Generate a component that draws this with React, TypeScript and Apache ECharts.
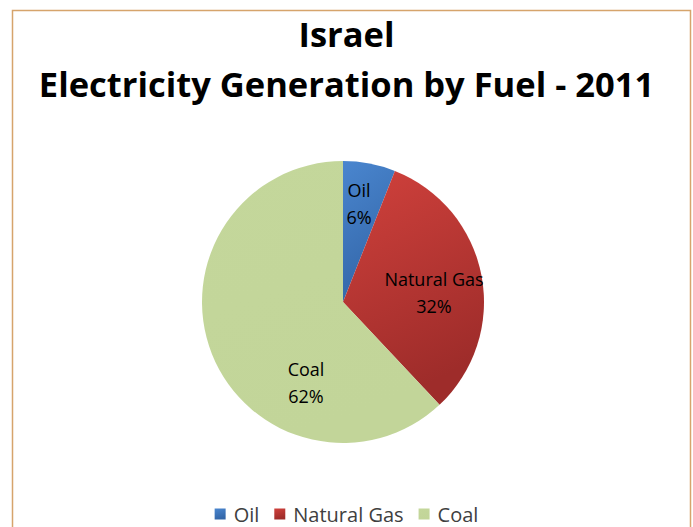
import React, { useEffect, useRef } from "react";
import * as echarts from "echarts";

const categories = ["Oil", "Natural Gas", "Coal"];
const shares = [6, 32, 62];
const titleLines = ["Israel", "Electricity Generation by Fuel - 2011"];

const colorsTop = ["#4A86CF", "#D0413C", "#C4D79B"];
const colorsBottom = ["#3366A8", "#9E2C2A", "#C2D599"];
const labelPos = [
  [359, 203],
  [434, 292],
  [306, 382],
];

export default function App() {
  const ref = useRef<HTMLDivElement>(null);
  useEffect(() => {
    document.body.style.margin = "0";
    const chart = echarts.init(ref.current!, null, { renderer: "svg" });
    const font = "'Open Sans', sans-serif";
    const titleStyle = {
      fontFamily: font,
      fontSize: 34.5,
      fontWeight: "bold",
      color: "#000000",
    };
    chart.setOption({
      animation: false,
      backgroundColor: "#ffffff",
      title: titleLines.map((t, i) => ({
        text: t,
        left: "center",
        top: 16 + i * 50,
        padding: 0,
        textStyle: titleStyle,
      })),
      graphic: [
        {
          type: "rect",
          shape: { x: 12.5, y: 10.5, width: 678, height: 540 },
          style: { fill: "none", stroke: "#D6A46C", lineWidth: 1.5 },
          silent: true,
        },
      ],
      legend: {
        top: 504,
        left: "center",
        padding: 0,
        itemWidth: 11,
        itemHeight: 11,
        itemGap: 15,
        icon: "rect",
        textStyle: {
          fontFamily: font,
          fontSize: 20,
          color: "#404040",
          padding: [0, 0, 0, 3],
        },
        data: categories,
      },
      series: [
        {
          type: "pie",
          center: [343, 302],
          radius: 141,
          startAngle: 90,
          clockwise: true,
          label: {
            show: true,
            position: "inside",
            formatter: (p: any) => `${p.name}\n${p.value}%`,
            fontFamily: font,
            fontSize: 18,
            lineHeight: 27,
            color: "#000000",
          },
          labelLayout: (p: any) => ({
            x: labelPos[p.dataIndex][0],
            y: labelPos[p.dataIndex][1],
            align: "center",
            verticalAlign: "middle",
          }),
          labelLine: { show: false },
          emphasis: { disabled: true },
          data: categories.map((c, i) => ({
            name: c,
            value: shares[i],
            itemStyle: {
              color: new echarts.graphic.LinearGradient(0, 0, 0.3, 1, [
                { offset: 0, color: colorsTop[i] },
                { offset: 1, color: colorsBottom[i] },
              ]),
            },
          })),
        },
      ],
    });
    return () => chart.dispose();
  }, []);
  return (
    <div
      ref={ref}
      style={{ position: "absolute", left: 0, top: 0, width: 693, height: 527 }}
    />
  );
}
